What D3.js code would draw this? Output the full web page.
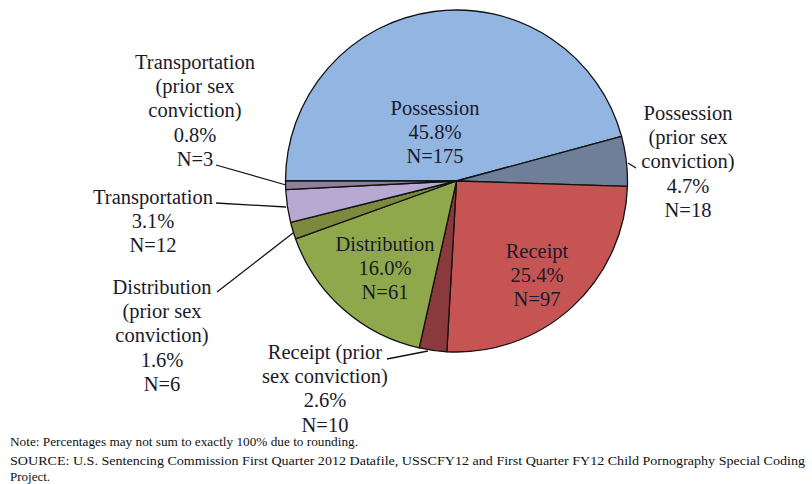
<!DOCTYPE html>
<html><head><meta charset="utf-8">
<script src="https://cdn.jsdelivr.net/npm/d3@7"></script>
</head>
<body style="margin:0">
<svg id="chart" width="812" height="484"></svg>
<script>
// ---- data ----
const categories = ["Possession","Possession (prior sex conviction)","Receipt","Receipt (prior sex conviction)","Distribution","Distribution (prior sex conviction)","Transportation","Transportation (prior sex conviction)"];
const percents = [45.8, 4.7, 25.4, 2.6, 16.0, 1.6, 3.1, 0.8];
const counts = [175, 18, 97, 10, 61, 6, 12, 3];
const labelLines = [
  ["Possession","45.8%","N=175"],
  ["Possession","(prior sex","conviction)","4.7%","N=18"],
  ["Receipt","25.4%","N=97"],
  ["Receipt (prior","sex conviction)","2.6%","N=10"],
  ["Distribution","16.0%","N=61"],
  ["Distribution","(prior sex","conviction)","1.6%","N=6"],
  ["Transportation","3.1%","N=12"],
  ["Transportation","(prior sex","conviction)","0.8%","N=3"]
];
const noteLines = [
  "Note: Percentages may not sum to exactly 100% due to rounding.",
  "SOURCE:  U.S. Sentencing Commission First Quarter 2012 Datafile, USSCFY12 and First Quarter FY12 Child Pornography Special Coding",
  "Project."
];

// ---- styling/layout ----
const FONT = '"Liberation Serif"';
const cx = 456.5, cy = 181, R = 171;
const baseColors = ["#92b5e1","#6f7f99","#c65453","#8a3a3c","#8ea84b","#7d8a3e","#b8a9d2","#8c8199"];
const labelPos = [
  [435,108],[688,113],[537,251],[325,352],
  [385,244],[162,287],[153,197],[195,62]
];
const leaders = [
  null,[[628,163],[636,168]],null,[[387,359],[428,351]],
  null,[[217,292],[293,233]],[[216,203],[286,207]],[[216,165],[286,185]]
];

const svg = d3.select("#chart");

// texts first
const lh = 24.2;
labelLines.forEach((lines,i)=>{
  const [x,y] = labelPos[i];
  lines.forEach((s,j)=>{
    svg.append("text").attr("class","lbl").attr("x",x).attr("y",y+j*lh+7).attr("text-anchor","middle")
      .style("font-family",FONT).style("font-size","20.5px").attr("fill","#1a1a2a").text(s);
  });
});
const noteY = [442,461,477];
const noteLen = [348,795,null];
noteLines.forEach((s,i)=>{
  const t = svg.append("text").attr("x",10).attr("y",noteY[i]+4)
    .style("font-family",FONT).style("font-size","13px").attr("fill","#111").text(s);
  if(noteLen[i]) t.attr("textLength",noteLen[i]).attr("lengthAdjust","spacingAndGlyphs");
});

const pie = d3.pie().sort(null).value(d=>d).startAngle(-Math.PI/2).endAngle(1.5*Math.PI);
const arcs = pie(percents);
const arc = d3.arc().innerRadius(0).outerRadius(R);
const g = svg.insert("g",":first-child").attr("transform",`translate(${cx},${cy})`);
g.selectAll("path").data(arcs).join("path")
  .attr("d",arc)
  .attr("fill",(d,i)=>baseColors[i])
  .attr("stroke","#111").attr("stroke-width",1.3).attr("stroke-linejoin","round");

leaders.forEach(l=>{
  if(!l) return;
  svg.insert("path",".lbl").attr("d",d3.line()(l)).attr("fill","none").attr("stroke","#111").attr("stroke-width",1.3);
});
</script>
</body></html>
